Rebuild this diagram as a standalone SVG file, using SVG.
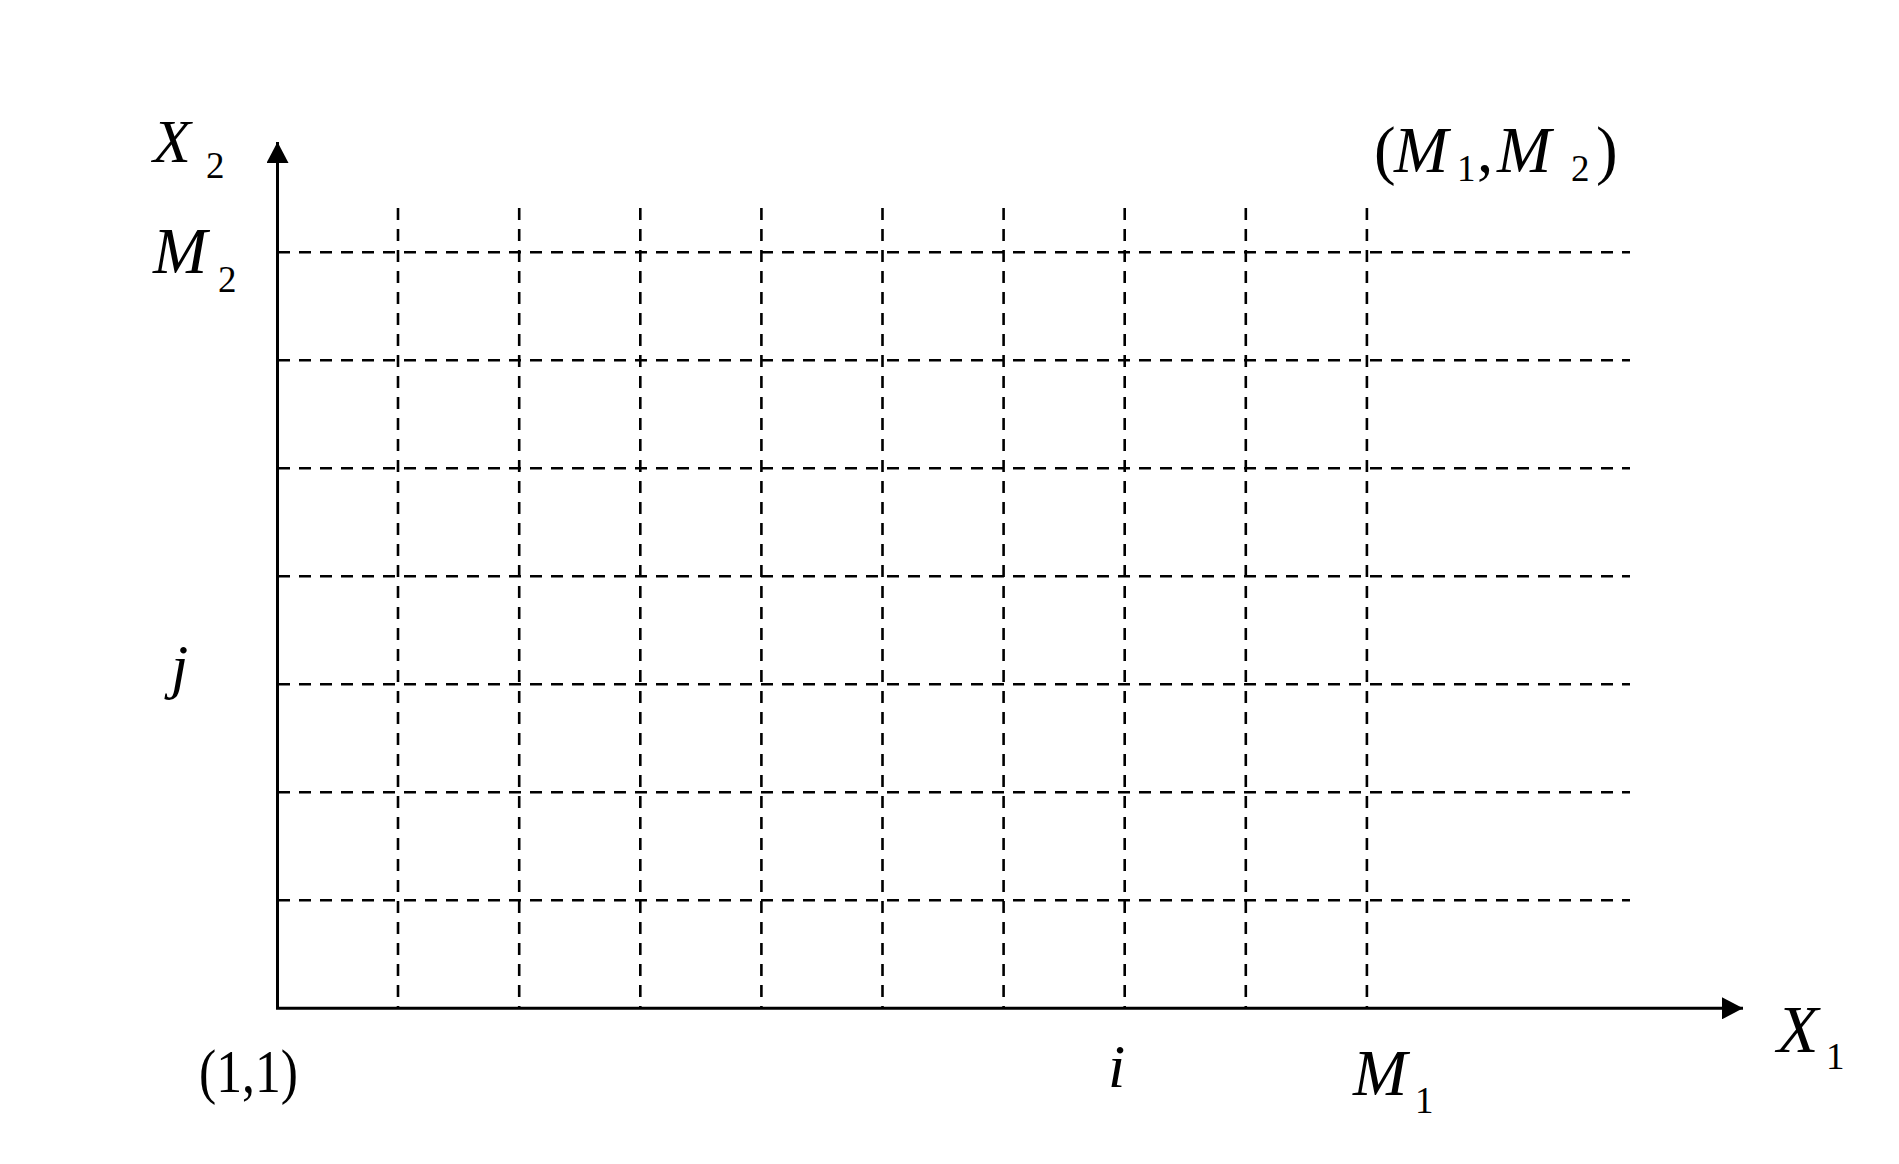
<svg xmlns="http://www.w3.org/2000/svg" width="1899" height="1164" viewBox="0 0 1899 1164">
<style>
.t{font-family:"Liberation Serif","Times New Roman",serif;fill:#000}
.it{font-style:italic}
.big{font-size:65px}
.sub{font-size:37px}
.ax{stroke:#000;stroke-width:3;fill:none}
.gh{stroke:#000;stroke-width:2.6;stroke-dasharray:12 9;fill:none}
.gv{stroke:#000;stroke-width:2.6;stroke-dasharray:12 9;fill:none}
</style>
<defs>
<marker id="ah" markerUnits="userSpaceOnUse" markerWidth="22" markerHeight="22" refX="21" refY="11" orient="auto">
<path d="M0,0 L21,11 L0,22 Z" fill="#000"/>
</marker>
</defs>
<rect width="1899" height="1164" fill="#fff"/>
<g id="grid">
<g id="hlines">
<line class="gh" x1="278" y1="252.3" x2="1630" y2="252.3"/>
<line class="gh" x1="278" y1="360.3" x2="1630" y2="360.3"/>
<line class="gh" x1="278" y1="468.3" x2="1630" y2="468.3"/>
<line class="gh" x1="278" y1="576.3" x2="1630" y2="576.3"/>
<line class="gh" x1="278" y1="684.3" x2="1630" y2="684.3"/>
<line class="gh" x1="278" y1="792.3" x2="1630" y2="792.3"/>
<line class="gh" x1="278" y1="900.3" x2="1630" y2="900.3"/>
</g>
<g id="vlines">
<line class="gv" x1="398" y1="208" x2="398" y2="1008"/>
<line class="gv" x1="519.2" y1="208" x2="519.2" y2="1008"/>
<line class="gv" x1="640.3" y1="208" x2="640.3" y2="1008"/>
<line class="gv" x1="761.4" y1="208" x2="761.4" y2="1008"/>
<line class="gv" x1="882.5" y1="208" x2="882.5" y2="1008"/>
<line class="gv" x1="1003.6" y1="208" x2="1003.6" y2="1008"/>
<line class="gv" x1="1124.7" y1="208" x2="1124.7" y2="1008"/>
<line class="gv" x1="1245.8" y1="208" x2="1245.8" y2="1008"/>
<line class="gv" x1="1366.9" y1="208" x2="1366.9" y2="1008"/>
</g>
</g>
<g id="axes">
<line class="ax" x1="277.5" y1="1008.3" x2="277.5" y2="142" marker-end="url(#ah)"/>
<line class="ax" x1="276" y1="1008.3" x2="1743" y2="1008.3" marker-end="url(#ah)"/>
</g>
<g id="labels">
<g id="label-x2"><text class="t it" x="153" y="162" font-size="62">X</text><text class="t sub" x="206" y="178">2</text></g>
<g id="label-m2"><text class="t it big" x="153" y="273">M</text><text class="t sub" x="218" y="292">2</text></g>
<g id="label-m1m2">
<text class="t" x="1374" y="172" font-size="65">(</text>
<text class="t it" x="1394" y="172" font-size="65">M</text>
<text class="t sub" x="1457" y="181">1</text>
<text class="t" x="1477" y="172" font-size="65">,</text>
<text class="t it" x="1497" y="172" font-size="65">M</text>
<text class="t sub" x="1571" y="181">2</text>
<text class="t" x="1596" y="172" font-size="65">)</text>
</g>
<g id="label-j"><text class="t it" x="171" y="687" font-size="62">j</text></g>
<g id="label-11"><text class="t" x="199" y="1092" font-size="62" textLength="99" lengthAdjust="spacingAndGlyphs">(1,1)</text></g>
<g id="label-i"><text class="t it" x="1108" y="1087" font-size="62">i</text></g>
<g id="label-m1"><text class="t it big" x="1353" y="1095">M</text><text class="t sub" x="1415" y="1113">1</text></g>
<g id="label-x1"><text class="t it" x="1777" y="1052" font-size="68">X</text><text class="t sub" x="1826" y="1069">1</text></g>
</g>
</svg>
